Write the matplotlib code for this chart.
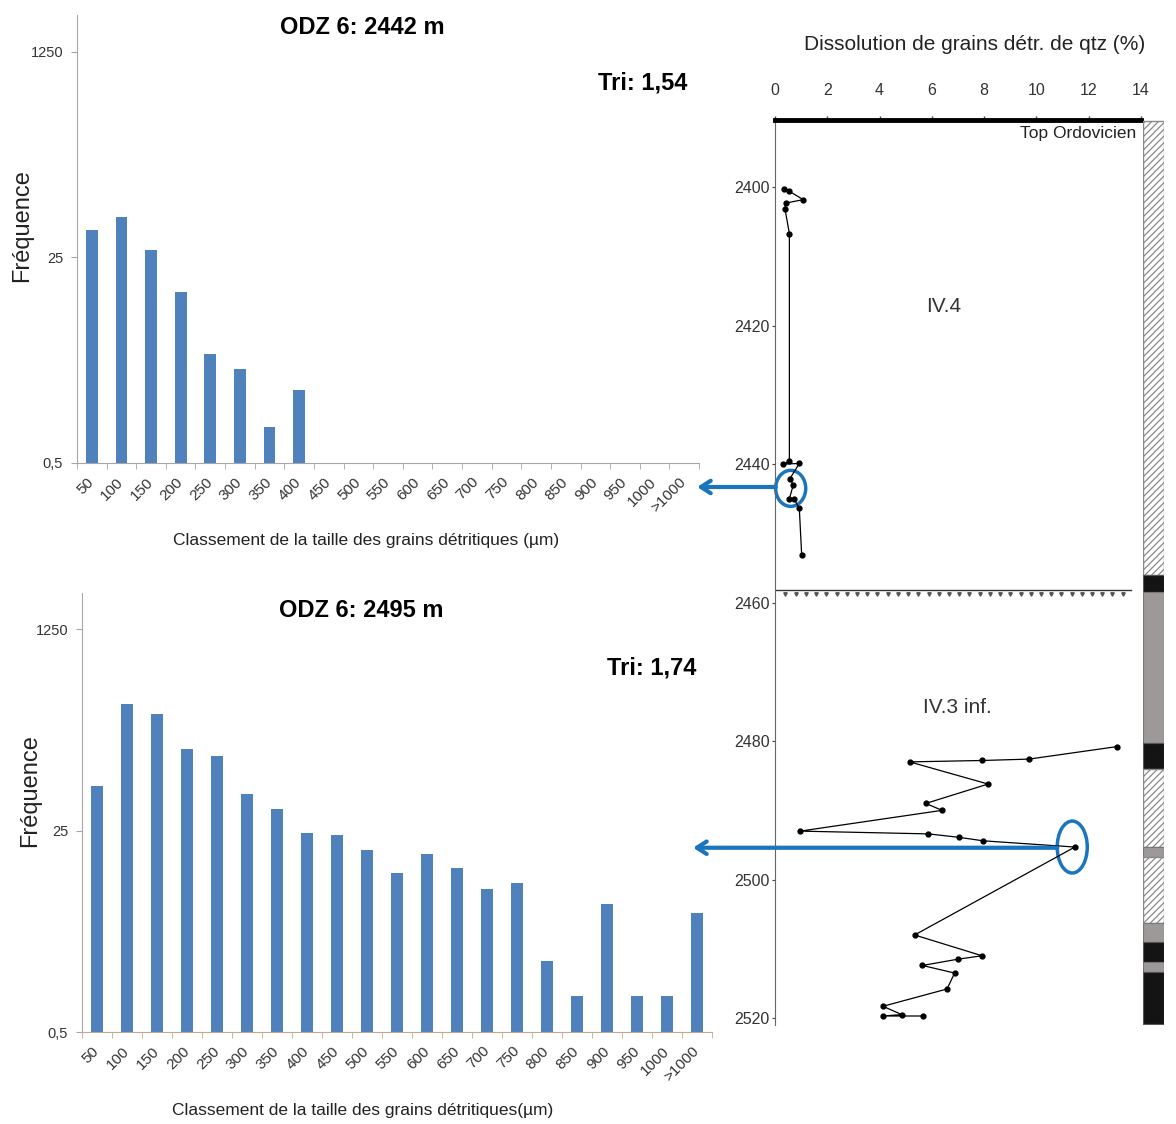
import numpy as np
import matplotlib
matplotlib.use("Agg")
import matplotlib.pyplot as plt
from matplotlib.patches import Ellipse
from matplotlib.ticker import NullLocator

# grain size classes (µm)
sizes = ['50', '100', '150', '200', '250', '300', '350', '400', '450', '500', '550',
         '600', '650', '700', '750', '800', '850', '900', '950', '1000', '>1000']

# frequencies per class
freq_2442 = [42, 54, 29, 13, 4, 3, 1, 2, 0, 0, 0, 0, 0, 0, 0, 0, 0, 0, 0, 0, 0]
freq_2495 = [59, 292, 240, 122, 107, 51, 38, 24, 23, 17, 11, 16, 12, 8, 9, 2, 1, 6, 1, 1, 5]

# dissolution of detrital quartz grains (%) vs depth (m)
dissol_iv4 = [0.36, 0.55, 1.08, 0.41, 0.38, 0.55, 0.55, 0.32, 0.93, 0.57, 0.70, 0.55, 0.74, 0.93, 1.02]
depth_iv4 = [2400.3, 2400.6, 2401.8, 2402.3, 2403.1, 2406.7, 2439.6, 2440.0, 2439.9, 2442.1, 2443.0,
             2445.0, 2445.1, 2446.4, 2453.1]
dissol_iv3 = [13.07, 9.71, 7.92, 5.15, 8.15, 5.77, 6.39, 0.96, 5.87, 7.05, 7.96, 11.47, 5.34, 7.92,
              6.99, 5.64, 6.87, 6.58, 4.13, 4.85, 4.13, 5.66]
depth_iv3 = [2480.8, 2482.6, 2482.8, 2483.0, 2486.2, 2489.0, 2490.0, 2493.0, 2493.4, 2493.9, 2494.4,
             2495.3, 2508.0, 2511.0, 2511.5, 2512.4, 2513.5, 2515.8, 2518.3, 2519.5, 2519.7, 2519.7]
unconformity = 2458.2

# lithology column
litho_top = [2390.4, 2456.0, 2458.4, 2480.3, 2484.1, 2495.3, 2496.7, 2506.3, 2509.0, 2511.9, 2513.3]
litho_base = litho_top[1:] + [2520.8]
litho_kind = ['hatch', 'black', 'gray', 'black', 'hatch', 'gray', 'hatch', 'gray', 'black', 'gray', 'black']

BAR = '#4f81bd'
BLUE = '#1b75bc'
ARIAL = ['Liberation Sans', 'DejaVu Sans']

W, H = 1176, 1124
fig = plt.figure(figsize=(W / 100, H / 100), dpi=100)


def px_axes(left, top, right, bottom):
    return fig.add_axes([left / W, 1 - bottom / H, (right - left) / W, (bottom - top) / H])


def histo(ax, freq, title, tri, xlabel, axis_col, lab_xy, ttl_xy, tri_xy, ylab_xy):
    x = np.arange(len(sizes))
    f = np.array(freq, dtype=float)
    keep = f > 0
    ax.set_yscale('log')
    ax.bar(x[keep], f[keep], width=0.4, color=BAR)
    ax.set_ylim(0.5, 2520)
    ax.set_xlim(-0.5, len(sizes) - 0.5)
    ax.set_yticks([0.5, 25, 1250])
    ax.set_yticklabels(['0,5', '25', '1250'], family=ARIAL, fontsize=10.5, color='#333')
    ax.yaxis.set_minor_locator(NullLocator())
    ax.set_xticks(x)
    ax.set_xticklabels(sizes, rotation=45, ha='right', va='center', rotation_mode='anchor',
                       family=ARIAL, fontsize=11, color='#333')
    ax.set_xticks(np.arange(len(sizes) + 1) - 0.5, minor=True)
    ax.tick_params(axis='x', which='major', length=0, pad=12)
    ax.tick_params(axis='x', which='minor', length=4, color=axis_col)
    ax.tick_params(axis='y', length=4, color='#a6a6a6', pad=6)
    for s in ['top', 'right']:
        ax.spines[s].set_visible(False)
    ax.spines['left'].set_color('#a6a6a6')
    ax.spines['bottom'].set_color(axis_col)
    ax.set_xlabel(xlabel, family=ARIAL, fontsize=12.5, color='#222', va='center')
    ax.xaxis.set_label_coords(*lab_xy)
    ax.set_ylabel('Fréquence', family=ARIAL, fontsize=17, color='#222', va='center')
    ax.yaxis.set_label_coords(*ylab_xy)
    ax.text(*ttl_xy, title, transform=ax.transAxes, ha='center', va='center',
            family=ARIAL, fontsize=17, fontweight='bold')
    ax.text(*tri_xy, tri, transform=ax.transAxes, ha='center', va='center',
            family=ARIAL, fontsize=17, fontweight='bold')


ax1 = px_axes(77, 15, 699, 463)
histo(ax1, freq_2442, 'ODZ 6: 2442 m', 'Tri: 1,54',
      'Classement de la taille des grains détritiques (µm)', '#a6a6a6',
      (0.465, -0.172), (0.458, 0.973), (0.91, 0.848), (-0.088, 0.531))

ax2 = px_axes(82, 593, 712, 1032)
histo(ax2, freq_2495, 'ODZ 6: 2495 m', 'Tri: 1,74',
      'Classement de la taille des grains détritiques(µm)', '#c4a98c',
      (0.446, -0.178), (0.444, 0.961), (0.905, 0.829), (-0.083, 0.551))

# depth profile
ax3 = px_axes(775, 120, 1141, 1025)
ax3.set_xlim(0, 14)
ax3.set_ylim(2521.0, 2390.3)
ax3.xaxis.tick_top()
ax3.set_xticks(range(0, 15, 2))
ax3.set_yticks(range(2400, 2521, 20))
ax3.tick_params(axis='x', length=3, width=1, color='#444', labelsize=11.5, labelcolor='#333', pad=13)
ax3.tick_params(axis='y', length=2, color='#444', labelsize=11.5, labelcolor='#333', pad=2)
for lab in ax3.get_xticklabels() + ax3.get_yticklabels():
    lab.set_family(ARIAL)
ax3.spines['top'].set_linewidth(3.5)
ax3.spines['top'].set_color('black')
ax3.spines['left'].set_color('#666')
ax3.spines['right'].set_visible(False)
ax3.spines['bottom'].set_visible(False)

ax3.plot(dissol_iv4, depth_iv4, '-o', color='black', lw=0.9, ms=3.5)
ax3.plot(dissol_iv3, depth_iv3, '-o', color='black', lw=0.9, ms=3.5)

# unconformity between IV.4 and IV.3 inf.
ax3.plot([0, 13.6], [unconformity, unconformity], color='#333', lw=1)
ax3.plot(np.linspace(0.4, 13.3, 34), [unconformity + 0.55] * 34, 'v', color='#555', ms=2.5)

ax3.text(0.546, 1.083, 'Dissolution de grains détr. de qtz (%)', transform=ax3.transAxes,
         ha='center', va='center', family=ARIAL, fontsize=15, color='#222')
ax3.text(13.8, 2392.2, 'Top Ordovicien', ha='right', va='center', family=ARIAL, fontsize=12.5, color='#222')
ax3.text(6.44, 2417.2, 'IV.4', ha='center', va='center', family=ARIAL, fontsize=15, color='#333')
ax3.text(6.97, 2475.1, 'IV.3 inf.', ha='center', va='center', family=ARIAL, fontsize=15, color='#333')

# highlighted samples and arrows to their histograms
ax3.add_patch(Ellipse((0.60, 2443.5), 1.15, 5.2, fill=False, ec=BLUE, lw=2.5, clip_on=False))
ax3.add_patch(Ellipse((11.37, 2495.3), 1.15, 7.5, fill=False, ec=BLUE, lw=2.5, clip_on=False))
arrow = dict(arrowstyle='->,head_length=0.7,head_width=0.45', color=BLUE, lw=3, shrinkA=0, shrinkB=0)
ax3.annotate('', xy=(0.997, 2443.3), xycoords=(ax1.transAxes, ax3.transData),
             xytext=(0.03, 2443.3), textcoords='data', arrowprops=arrow)
ax3.annotate('', xy=(0.970, 2495.4), xycoords=(ax2.transAxes, ax3.transData),
             xytext=(10.8, 2495.4), textcoords='data', arrowprops=arrow)

# lithology column
ax4 = px_axes(1143, 120, 1164, 1025)
ax4.set_ylim(2521.0, 2390.3)
ax4.set_xlim(-0.5, 0.5)
ax4.axis('off')
plt.rcParams['hatch.linewidth'] = 0.9
for top, base, kind in zip(litho_top, litho_base, litho_kind):
    if kind == 'hatch':
        ax4.bar(0, base - top, bottom=top, width=1, color='white', edgecolor='#888', hatch='/////', lw=1)
    elif kind == 'black':
        ax4.bar(0, base - top, bottom=top, width=1, color='#141414', edgecolor='#555', lw=0.8)
    else:
        ax4.bar(0, base - top, bottom=top, width=1, color='#9d9999', edgecolor='#777', lw=0.8)

fig.savefig('out.png', dpi=100)
